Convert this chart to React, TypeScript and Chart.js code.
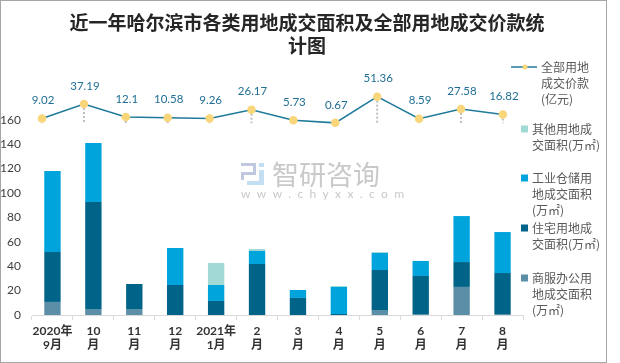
import React, { useEffect, useRef } from "react";
import { Chart, registerables } from "chart.js";

Chart.register(...registerables);

const categories = [["2020年", "9月"], ["10", "月"], ["11", "月"], ["12", "月"], ["2021年", "1月"], ["2", "月"], ["3", "月"], ["4", "月"], ["5", "月"], ["6", "月"], ["7", "月"], ["8", "月"]];
const commercial = [10.7, 4.9, 4.9, 0, 0, 0, 0, 0, 4.1, 0.8, 23, 0.8];
const residential = [41, 87.7, 20.5, 24.6, 11.5, 41.8, 14, 0.8, 32.8, 31.2, 20.4, 33.6];
const industrial = [66.4, 48.4, 0, 30.3, 13.1, 10.7, 6.5, 22.2, 13.9, 12.3, 37.7, 33.6];
const other = [0, 0, 0, 0, 18, 1.6, 0, 0.8, 0.8, 0, 0, 0];
const price = [9.02, 37.19, 12.1, 10.58, 9.26, 26.17, 5.73, 0.67, 51.36, 8.59, 27.58, 16.82];
const priceLabels = ["9.02", "37.19", "12.1", "10.58", "9.26", "26.17", "5.73", "0.67", "51.36", "8.59", "27.58", "16.82"];

const titleLines = ["近一年哈尔滨市各类用地成交面积及全部用地成交价款统", "计图"];
const legendItems = [
  { lines: ["全部用地", "成交价款", "(亿元)"], color: "#F9D67A", y: 67, line: true },
  { lines: ["其他用地成", "交面积(万㎡)"], color: "#A1D9D4", y: 129, line: false },
  { lines: ["工业仓储用", "地成交面积", "(万㎡)"], color: "#00A4DC", y: 178, line: false },
  { lines: ["住宅用地成", "交面积(万㎡)"], color: "#006388", y: 228, line: false },
  { lines: ["商服办公用", "地成交面积", "(万㎡)"], color: "#5B8FA8", y: 278, line: false },
];

const SANS = '"Noto Sans CJK SC", sans-serif';
const NUM = 'Lato, "Noto Sans CJK SC", sans-serif';

const overlay = {
  id: "overlay",
  beforeDatasetsDraw(chart: any) {
    const { ctx } = chart;
    const y2 = chart.scales.y2;
    const meta = chart.getDatasetMeta(4);
    ctx.save();
    ctx.strokeStyle = "#BDBDBD";
    ctx.lineWidth = 2;
    ctx.setLineDash([2, 2]);
    meta.data.forEach((p: any) => {
      ctx.beginPath();
      ctx.moveTo(p.x, p.y);
      ctx.lineTo(p.x, y2.getPixelForValue(0));
      ctx.stroke();
    });
    ctx.restore();

    // watermark
    ctx.save();
    ctx.fillStyle = "#C9C9C9";
    ctx.font = `27px ${SANS}`;
    ctx.textBaseline = "middle";
    ctx.textAlign = "left";
    ctx.fillText("智研咨询", 272, 175);
    ctx.font = `12px ${NUM}`;
    (ctx as any).letterSpacing = "6.4px";
    ctx.fillText("www.chyxx.com", 241, 194);
    (ctx as any).letterSpacing = "0px";
    ctx.fillStyle = "#BFC8DE";
    ctx.fillRect(241, 163, 15, 3);
    ctx.fillRect(253, 163, 3, 12);
    ctx.fillRect(241, 172, 12, 3);
    ctx.fillRect(241, 172, 3, 8);
    ctx.fillStyle = "#C5DFF2";
    ctx.fillRect(259, 163, 5, 4);
    ctx.fillRect(259, 170, 5, 15);
    ctx.fillRect(247, 181, 17, 4);
    ctx.restore();
  },
  afterDatasetsDraw(chart: any) {
    const { ctx } = chart;
    const meta = chart.getDatasetMeta(4);
    ctx.save();
    ctx.font = `11.5px ${NUM}`;
    ctx.fillStyle = "#1F6E94";
    ctx.textAlign = "center";
    ctx.textBaseline = "middle";
    meta.data.forEach((p: any, i: number) => {
      ctx.fillText(priceLabels[i], p.x + 1, p.y - 18);
    });
    ctx.restore();

    // legend
    ctx.save();
    ctx.font = `12px ${SANS}`;
    ctx.textBaseline = "middle";
    ctx.textAlign = "left";
    legendItems.forEach((it) => {
      const tx = it.line ? 541 : 532;
      if (it.line) {
        ctx.strokeStyle = "#1F7A9A";
        ctx.lineWidth = 1.5;
        ctx.beginPath();
        ctx.moveTo(511, it.y);
        ctx.lineTo(537, it.y);
        ctx.stroke();
        ctx.fillStyle = it.color;
        ctx.beginPath();
        ctx.arc(525, it.y, 2.5, 0, Math.PI * 2);
        ctx.fill();
      } else {
        ctx.fillStyle = it.color;
        ctx.fillRect(521, it.y - 3.5, 7, 7);
      }
      ctx.fillStyle = "#595959";
      it.lines.forEach((l, k) => ctx.fillText(l, tx, it.y + k * 16));
    });
    ctx.restore();
  },
};

const barStyle = { grouped: false, barPercentage: 0.4, categoryPercentage: 1, order: 2 };

export default function App() {
  const ref = useRef<HTMLCanvasElement>(null);
  useEffect(() => {
    const chart = new Chart(ref.current as HTMLCanvasElement, {
      type: "bar",
      plugins: [overlay],
      data: {
        labels: categories as any,
        datasets: [
          { label: "商服办公用地成交面积(万㎡)", data: commercial, backgroundColor: "#5B8FA8", ...barStyle },
          { label: "住宅用地成交面积(万㎡)", data: residential, backgroundColor: "#006388", ...barStyle },
          { label: "工业仓储用地成交面积(万㎡)", data: industrial, backgroundColor: "#00A4DC", ...barStyle },
          { label: "其他用地成交面积(万㎡)", data: other, backgroundColor: "#A1D9D4", ...barStyle },
          {
            type: "line",
            label: "全部用地成交价款(亿元)",
            data: price.map((v, i) => ({ x: i, y: v })),
            xAxisID: "x2",
            yAxisID: "y2",
            borderColor: "#1F7A9A",
            borderWidth: 1.5,
            backgroundColor: "#F9D67A",
            pointBackgroundColor: "#F9D67A",
            pointBorderColor: "#F9D67A",
            pointRadius: 3.5,
            tension: 0,
            order: 1,
          } as any,
        ],
      },
      options: {
        animation: false,
        responsive: false,
        layout: { padding: { left: 0, right: 6, top: 0, bottom: 0 } },
        plugins: {
          legend: { display: false },
          tooltip: { enabled: false },
          title: {
            display: true,
            text: titleLines,
            color: "#262626",
            font: { family: SANS, size: 19, weight: "bold", lineHeight: 23 / 19 },
            padding: { top: 11, bottom: 14 },
            align: "center",
          },
        },
        scales: {
          x: {
            stacked: true,
            grid: { display: true, drawOnChartArea: false, color: "#D9D9D9", tickLength: 5 },
            border: { display: true, color: "#D9D9D9" },
            ticks: { color: "#333333", font: { family: NUM, size: 12, weight: "bold" }, maxRotation: 0, autoSkip: false, padding: 4 },
            afterFit: (s: any) => { s.height = 48; },
          },
          y: {
            stacked: true,
            min: 0,
            max: 200,
            grid: { display: false, drawTicks: false },
            border: { display: false },
            ticks: {
              stepSize: 20,
              color: "#404040",
              font: { family: NUM, size: 12 },
              padding: 11,
              callback: (v: any) => (Number(v) > 160 ? "" : String(v)),
            },
            afterFit: (s: any) => { s.width = 32; },
          },
          x2: { type: "linear", display: false, offset: false, min: -0.239, max: 11.48 },
          y2: {
            type: "linear",
            display: true,
            min: -371,
            max: 101,
            position: "right",
            grid: { display: false, drawTicks: false },
            border: { display: false },
            ticks: { display: false },
            afterFit: (s: any) => { s.width = 91; },
          },
        },
      } as any,
    });
    return () => chart.destroy();
  }, []);
  return (
    <div style={{ position: "absolute", left: 0, top: 0, width: 620, height: 363, background: "#fff" }}>
      <canvas ref={ref} width={620} height={363} style={{ display: "block" }} />
      <div style={{ position: "absolute", left: 0, top: 0, width: 605, height: 361, border: "1px solid #A6A6A6", pointerEvents: "none" }} />
    </div>
  );
}
